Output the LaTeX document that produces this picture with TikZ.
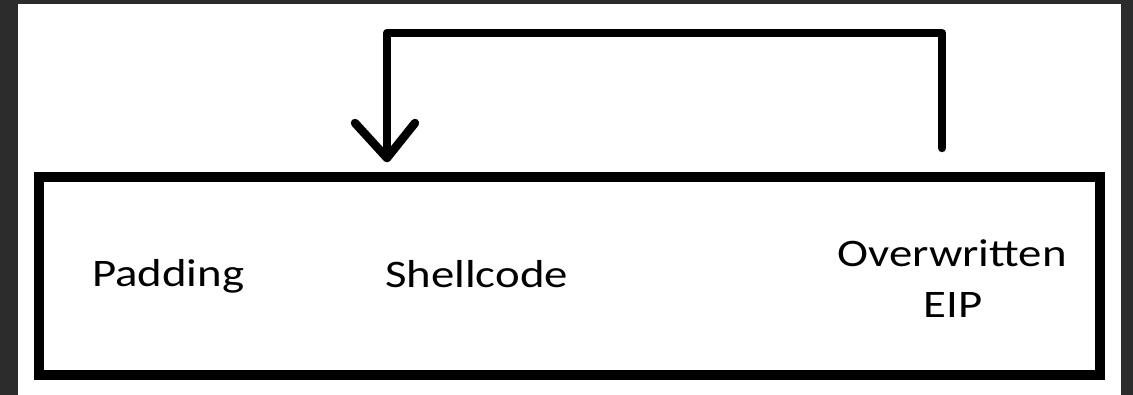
\documentclass[tikz,border=0pt]{standalone}
\usepackage{fontspec}
\newfontfamily\labelfont[FakeStretch=1.2]{Carlito}
\begin{document}
\begin{tikzpicture}[x=1pt,y=-1pt,
  frame/.style={line width=10pt},
  jump/.style={line width=8.5pt, line cap=round, line join=round},
  lbl/.style={font=\labelfont\fontsize{39}{51}\selectfont, inner sep=0pt, text=black}]
  % page: dark surround and white sheet
  \fill[fill={rgb,255:red,44;green,44;blue,44}] (0,0) rectangle (1133,395);
  \fill[white] (18,4) rectangle (1121,395);
  \useasboundingbox (0,0) rectangle (1133,395);

  % stack buffer
  \draw[frame] (39,177) rectangle (1100,375);

  % buffer contents
  \node[lbl, anchor=base west] (pad) at (92,287) {Padding};
  \node[lbl, anchor=base west] (shell) at (385,288) {Shellcode};
  \node[lbl, anchor=base] (eip1) at (952,267) {Overwritten};
  \node[lbl, anchor=base] (eip2) at (953,318) {EIP};

  % return address redirected back to the shellcode
  \coordinate (from) at (942,148);
  \coordinate (up) at (942,33);
  \coordinate (over) at (387,33);
  \coordinate (tip) at (387,158);
  \coordinate (wingl) at (355,123);
  \coordinate (wingr) at (415,123);
  \draw[jump] (from) -- (up) -- (over) -- (tip);
  \draw[jump] (wingl) -- (tip) -- (wingr);
\end{tikzpicture}
\end{document}
